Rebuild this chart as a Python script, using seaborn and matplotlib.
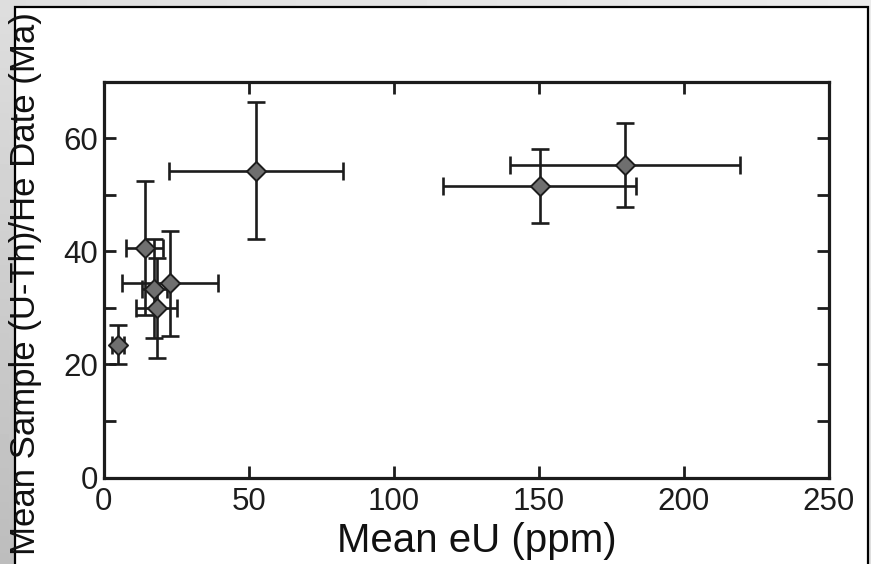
import numpy as np
import matplotlib
matplotlib.use("Agg")
import matplotlib.pyplot as plt
from matplotlib.patches import Rectangle
import seaborn as sns

# mean eU (ppm) and mean (U-Th)/He date (Ma) per sample, with 1 sd bars
eu = [5.1, 14.2, 17.5, 18.3, 22.9, 52.6, 150.3, 179.8]
eu_err = [2.0, 6.4, 4.3, 7.1, 16.6, 30.0, 33.2, 39.6]
date = [23.5, 40.6, 33.4, 30.0, 34.3, 54.2, 51.5, 55.3]
date_err = [3.4, 11.8, 8.8, 8.8, 9.3, 12.1, 6.6, 7.4]

x_ticks = [0, 50, 100, 150, 200, 250]
y_ticks = [0, 20, 40, 60]
y_minor = [10, 30, 50]

sns.set_theme(style="ticks")
plt.rcParams["font.family"] = ["Liberation Sans", "DejaVu Sans"]

W, H = 871, 564
fig = plt.figure(figsize=(W / 100, H / 100), dpi=100)

# grey gradient frame around the white panel
bg = fig.add_axes([0, 0, 1, 1], zorder=-10)
yy, xx = np.mgrid[0:1:100j, 0:1:100j]
grad = 0.87 - 0.13 * yy * (1 - xx) + 0.05 * xx * (1 - yy)
bg.imshow(grad, extent=[0, 1, 0, 1], aspect="auto", cmap="gray",
          vmin=0, vmax=1, origin="upper")
bg.axis("off")
fig.patches.append(Rectangle((15 / W, -0.02), (868 - 15) / W, 1 - 7 / H + 0.02,
                             transform=fig.transFigure, facecolor="white",
                             edgecolor="black", lw=1.6, zorder=-5))

ax_w = 829 - 103.5
ax = fig.add_axes([103.5 / W, 1 - 477.5 / H, ax_w / W, (477.5 - 81.5) / H])
ax.set_facecolor("white")

ax.errorbar(eu, date, xerr=eu_err, yerr=date_err, fmt="none",
            ecolor="#1c1c1c", elinewidth=1.9, capsize=6.2, capthick=1.9, zorder=2)
sns.scatterplot(x=eu, y=date, ax=ax, marker="D", s=95, color="#6f6f6f",
                edgecolor="#1c1c1c", linewidth=1.4, zorder=3)

ax.set_xlim(0, 250)
ax.set_ylim(0, 70)
ax.set_xticks(x_ticks)
ax.set_yticks(y_ticks)
ax.set_yticks(y_minor, minor=True)
ax.tick_params(which="both", direction="in", top=True, right=True,
               length=8.5, width=2, color="#1c1c1c", labelsize=22.5,
               labelcolor="#1c1c1c")
ax.tick_params(axis="x", pad=7)
ax.tick_params(axis="y", pad=4)
for s in ax.spines.values():
    s.set_linewidth(2.3)
    s.set_color("#1c1c1c")

ax.set_xlabel("Mean eU (ppm)", fontsize=29, color="#111111")
ax.xaxis.set_label_coords((477 - 103.5) / ax_w, -(552 - 477.5) / (477.5 - 81.5))
ax.xaxis.label.set_va("baseline")
ax.set_ylabel("Mean Sample (U-Th)/He Date (Ma)", fontsize=25, color="#111111")
ax.yaxis.set_label_coords((26 - 103.5) / ax_w, (477.5 - 284) / (477.5 - 81.5))
ax.yaxis.label.set_va("center")

fig.savefig("out.png", dpi=100)
